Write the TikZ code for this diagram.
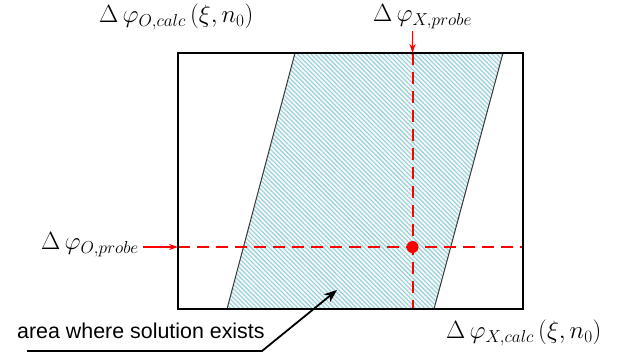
\documentclass[tikz,border=0pt]{standalone}
\usepackage{fontspec}
\setsansfont{Liberation Sans}
\usetikzlibrary{patterns.meta,arrows.meta}
\tikzset{
  frame/.style={draw=black,line width=2.4pt},
  band/.style={pattern={Lines[angle=-45,distance=3.2pt,line width=1.1pt]},pattern color=hatch},
  bandedge/.style={draw=darkgray!90!black,line width=1pt},
  reddash/.style={draw=red,line width=2pt,dash pattern=on 12pt off 7pt},
  redarrow/.style={draw=red,line width=1.4pt,-{Stealth[length=9pt,width=6pt]}},
  mathlabel/.style={font=\fontsize{25}{28}\selectfont,inner sep=0pt},
  callout/.style={font=\sffamily\fontsize{21.4}{24}\selectfont,inner sep=0pt},
}
\definecolor{hatch}{RGB}{155,208,212}
\begin{document}
\begin{tikzpicture}[x=1pt,y=-1pt]
\useasboundingbox (0,0) rectangle (618,354);
% rectangle corners
\coordinate (TL) at (178,53);
\coordinate (TR) at (523,53);
\coordinate (BR) at (523,309);
\coordinate (BL) at (178,309);
% band corners
\coordinate (P1) at (295,53);
\coordinate (P2) at (503,53);
\coordinate (P3) at (434,309);
\coordinate (P4) at (227,309);
\fill[white] (TL) rectangle (BR);
\fill[hatch!12] (P1) -- (P2) -- (P3) -- (P4) -- cycle;
\path[band] (P1) -- (P2) -- (P3) -- (P4) -- cycle;
\draw[bandedge] (P1) -- (P4);
\draw[bandedge] (P2) -- (P3);
% dashed probe lines
\coordinate (VT) at (412.5,53);
\coordinate (VB) at (412.5,309);
\coordinate (HL) at (178,247);
\coordinate (HR) at (523,247);
\draw[reddash] (VT) -- (VB);
\draw[reddash] (HL) -- (HR);
\node[circle,fill=red,minimum size=12pt,inner sep=0pt] (dot) at (412.5,247) {};
\draw[frame] (TL) rectangle (BR);
% labels
\node[mathlabel,anchor=west] (Ocalc) at (99,17) {$\Delta\,\varphi_{O,calc}\,(\xi,n_0)$};
\node[mathlabel,anchor=west] (Xprobe) at (373,17) {$\Delta\,\varphi_{X,probe}$};
\node[mathlabel,anchor=west] (Oprobe) at (41,245) {$\Delta\,\varphi_{O,probe}$};
\node[mathlabel,anchor=west] (Xcalc) at (446,333) {$\Delta\,\varphi_{X,calc}\,(\xi,n_0)$};
\coordinate (Xarrow) at (412.5,31);
\coordinate (Oarrow) at (143,247);
\draw[redarrow] (Xarrow) -- (VT);
\draw[redarrow] (Oarrow) -- (HL);
% callout
\node[callout,anchor=base west] (area) at (17,338) {area where solution exists};
\coordinate (U1) at (27,351);
\coordinate (U2) at (262,351);
\coordinate (tip) at (337,290);
\draw[line width=1.8pt,-{Stealth[length=13pt,width=10pt]}] (U1) -- (U2) -- (tip);
\end{tikzpicture}
\end{document}
